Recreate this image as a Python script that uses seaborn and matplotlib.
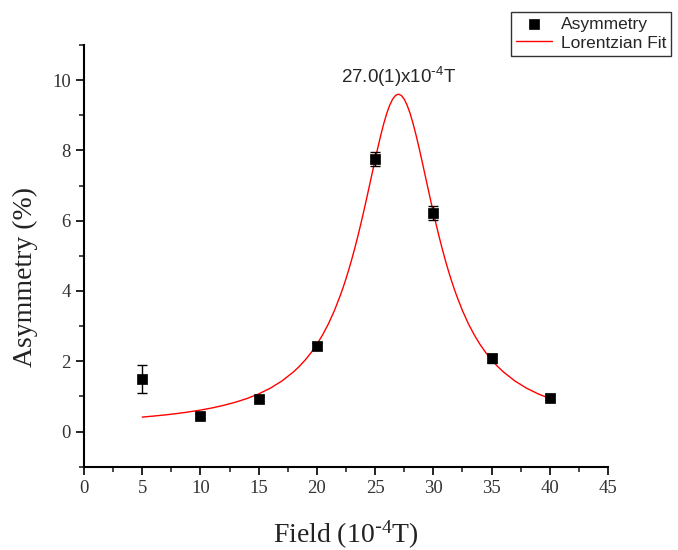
import matplotlib
matplotlib.use("Agg")
import matplotlib.pyplot as plt
import seaborn as sns
import pandas as pd

# Measured data
field = [5, 10, 15, 20, 25, 30, 35, 40]
asym = [1.49, 0.45, 0.94, 2.44, 7.75, 6.21, 2.08, 0.96]
asym_err = [0.40, 0.06, 0.06, 0.08, 0.20, 0.20, 0.12, 0.06]

# Lorentzian fit curve
fit_x = [5, 6, 7, 8, 9, 10, 11, 12, 13, 14, 15, 16, 17, 18, 18.5, 19, 19.5,
         20, 20.5, 21, 21.5, 22, 22.25, 22.5, 22.75, 23, 23.25, 23.5, 23.75,
         24, 24.25, 24.5, 24.75, 25, 25.25, 25.5, 25.75, 26, 26.25, 26.5,
         26.75, 27, 27.25, 27.5, 27.75, 28, 28.25, 28.5, 28.75, 29, 29.25,
         29.5, 29.75, 30, 30.25, 30.5, 30.75, 31, 31.25, 31.5, 31.75, 32,
         32.5, 33, 33.5, 34, 34.5, 35, 35.5, 36, 37, 38, 39, 40]
fit_y = [0.411, 0.441, 0.474, 0.513, 0.558, 0.610, 0.672, 0.746, 0.834, 0.940,
         1.071, 1.234, 1.439, 1.700, 1.858, 2.038, 2.245, 2.483, 2.757, 3.073,
         3.440, 3.864, 4.099, 4.351, 4.621, 4.909, 5.215, 5.538, 5.879, 6.234,
         6.602, 6.979, 7.359, 7.737, 8.105, 8.454, 8.774, 9.054, 9.285, 9.457,
         9.564, 9.600, 9.564, 9.457, 9.285, 9.054, 8.774, 8.454, 8.105, 7.737,
         7.359, 6.979, 6.602, 6.234, 5.879, 5.538, 5.215, 4.909, 4.621, 4.351,
         4.099, 3.864, 3.440, 3.073, 2.757, 2.483, 2.245, 2.038, 1.858, 1.700,
         1.439, 1.234, 1.071, 0.940]

x_ticks = [0, 5, 10, 15, 20, 25, 30, 35, 40, 45]
y_ticks = [0, 2, 4, 6, 8, 10]
peak_label = r"27.0(1)x10$^{\text{-}4}$T"
x_label = r"Field (10$^{\text{-}4}$T)"
y_label = "Asymmetry (%)"

sns.set_theme(style="ticks")
plt.rcParams["font.family"] = ["Liberation Serif", "DejaVu Serif"]
plt.rcParams["mathtext.default"] = "regular"

fig = plt.figure(figsize=(6.78, 5.5), dpi=100)
ax = fig.add_axes([0.1239, 0.1515, 0.7729, 0.7667])

df = pd.DataFrame({"x": field, "y": asym})
fit_df = pd.DataFrame({"x": fit_x, "y": fit_y})

sns.lineplot(data=fit_df, x="x", y="y", color="red", linewidth=1.0, ax=ax,
             label="Lorentzian Fit", zorder=3)
ax.errorbar(field, asym, yerr=asym_err, fmt="none", ecolor="black",
            elinewidth=1.0, capsize=3.5, capthick=1.0, zorder=4)
sns.scatterplot(data=df, x="x", y="y", marker="s", color="black", s=60,
                edgecolor="black", linewidth=0.5, ax=ax, label="Asymmetry",
                zorder=5)

ax.set_xlim(0, 45)
ax.set_ylim(-1, 11)
ax.set_xticks(x_ticks)
ax.set_yticks(y_ticks)
ax.set_xticks([2.5 + 5 * i for i in range(9)], minor=True)
ax.set_yticks([-1, 1, 3, 5, 7, 9, 11], minor=True)
ax.tick_params(axis="both", which="major", direction="out", length=6,
               width=1.2, labelsize=13.5, colors="black", labelcolor="#333333")
ax.tick_params(axis="both", which="minor", direction="out", length=3.5,
               width=1.2)
sns.despine(ax=ax)
for s in ["left", "bottom"]:
    ax.spines[s].set_linewidth(1.5)
    ax.spines[s].set_color("black")

ax.set_xlabel(x_label, fontsize=20, color="#222222")
ax.set_ylabel(y_label, fontsize=20, color="#222222")
ax.xaxis.set_label_coords(0.5, -0.124)
ax.yaxis.set_label_coords(-0.088, 0.45)

ax.text(27, 9.92, peak_label, ha="center", va="baseline", fontsize=13.5,
        family=["Liberation Sans", "DejaVu Sans"])

handles, labels = ax.get_legend_handles_labels()
order = [labels.index("Asymmetry"), labels.index("Lorentzian Fit")]
if ax.legend_:
    ax.legend_.remove()
leg = fig.legend([handles[i] for i in order], [labels[i] for i in order],
                 loc="upper left", bbox_to_anchor=(0.753, 0.979),
                 frameon=True, fancybox=False, edgecolor="black",
                 prop={"family": ["Liberation Sans", "DejaVu Sans"], "size": 12.5},
                 handlelength=2.1, borderpad=0.3, labelspacing=0.2,
                 handletextpad=0.5, borderaxespad=0)
leg.get_frame().set_linewidth(1.0)

fig.savefig("out.png", dpi=100)
